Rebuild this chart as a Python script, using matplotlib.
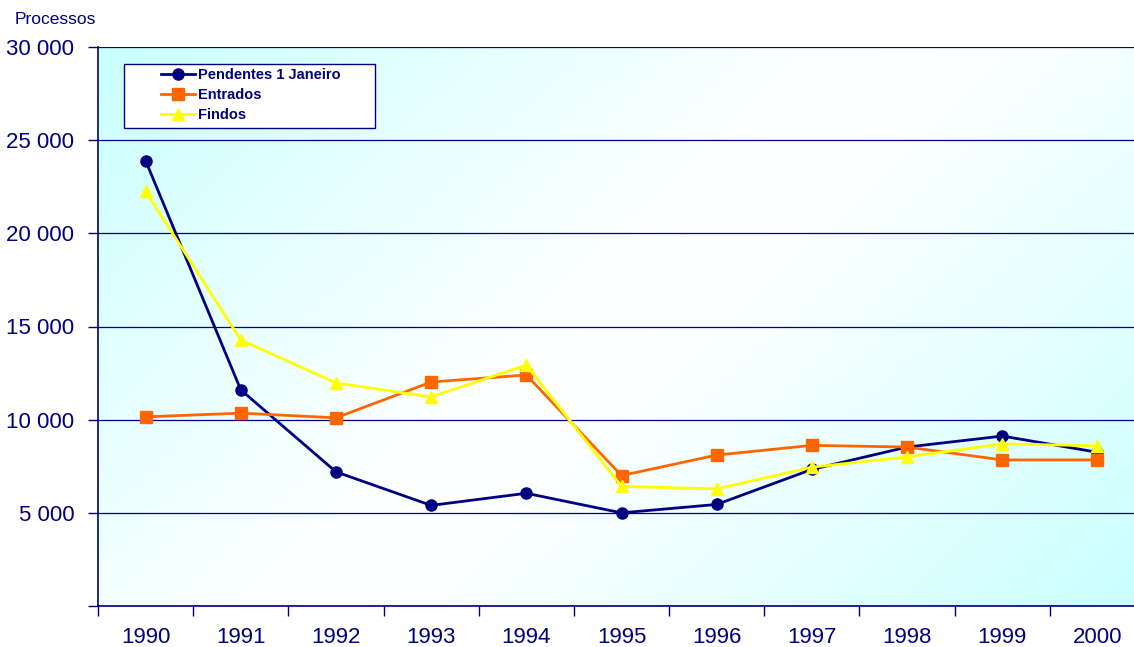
import numpy as np
import matplotlib.pyplot as plt
from matplotlib.patches import Rectangle
from matplotlib.ticker import FuncFormatter

# data
anos = ['1990', '1991', '1992', '1993', '1994', '1995', '1996', '1997', '1998', '1999', '2000']
pendentes = [23900, 11600, 7200, 5400, 6050, 5000, 5450, 7330, 8530, 9120, 8250]
entrados = [10150, 10350, 10100, 12020, 12400, 7000, 8100, 8620, 8530, 7840, 7840]
findos = [22250, 14280, 11970, 11220, 12930, 6420, 6290, 7450, 8000, 8700, 8600]

navy = '#000080'
plt.rcParams['font.family'] = ['Liberation Sans', 'DejaVu Sans']

W, H = 1134, 647
fig = plt.figure(figsize=(W / 100, H / 100), dpi=100)
# plot area runs a little past the right edge of the picture, as in the reference
ax_l, ax_r, ax_t, ax_b = 98, 1145, 47, 606
ax = fig.add_axes([ax_l / W, (H - ax_b) / H, (ax_r - ax_l) / W, (ax_b - ax_t) / H])
aw, ah = ax_r - ax_l, ax_b - ax_t

# diagonal background: cyan corners, white middle
n = 300
xx, yy = np.meshgrid(np.linspace(0, 1, n), np.linspace(0, 1, n))
s = (xx * 1.8 + yy) / 2.8
t = np.abs(s - 0.5) * 2
c0 = np.array([1.0, 1.0, 1.0])
c1 = np.array([200, 255, 255]) / 255
img = c0 + (c1 - c0) * t[..., None] ** 1.2
ax.imshow(img, extent=[0, 1, 0, 1], transform=ax.transAxes, origin='upper',
          aspect='auto', zorder=0)

x = np.arange(len(anos))
ax.plot(x, pendentes, color=navy, lw=2, marker='o', ms=8, label='Pendentes 1 Janeiro', zorder=3)
ax.plot(x, entrados, color='#FF6600', lw=2, marker='s', ms=8, label='Entrados', zorder=3)
ax.plot(x, findos, color='#FFFF00', lw=2, marker='^', ms=9, label='Findos', zorder=4)

ax.set_xlim(-0.5, len(anos) - 0.5)
ax.set_ylim(0, 30000)
ax.set_yticks(range(0, 30001, 5000))
ax.yaxis.set_major_formatter(FuncFormatter(
    lambda v, p: '' if v == 0 else f'{int(v):,}'.replace(',', ' ')))
ax.grid(axis='y', color=navy, lw=0.9)
ax.set_axisbelow(False)

ax.set_xticks(x)
ax.set_xticklabels(anos)
ax.set_xticks(np.arange(-0.5, len(anos)), minor=True)
ax.tick_params(axis='x', which='major', length=0, pad=15, labelsize=16, labelcolor=navy)
ax.tick_params(axis='x', which='minor', length=7, color=navy, width=1)
ax.tick_params(axis='y', length=7, color=navy, width=1, labelsize=16, labelcolor=navy, pad=10)

for side in ['top', 'right']:
    ax.spines[side].set_visible(False)
for side in ['left', 'bottom']:
    ax.spines[side].set_color(navy)
    ax.spines[side].set_linewidth(1.2)

fig.text(15 / W, 1 - 19 / H, 'Processos', color=navy, fontsize=12.5, va='center')

# legend box
ax.add_patch(Rectangle(((124 - ax_l) / aw, (ax_b - 128) / ah), 251 / aw, 64 / ah,
                       transform=ax.transAxes, facecolor='white', edgecolor=navy,
                       lw=1, zorder=5))
leg = ax.legend(loc='upper left', bbox_to_anchor=((161 - ax_l) / aw, (ax_b - 68) / ah),
                frameon=False, handlelength=2.3, handletextpad=0.25, labelspacing=0.42,
                borderpad=0, borderaxespad=0, prop={'weight': 'bold', 'size': 10.5})
leg.set_zorder(6)
for txt in leg.get_texts():
    txt.set_color(navy)

fig.savefig('out.png', dpi=100)
